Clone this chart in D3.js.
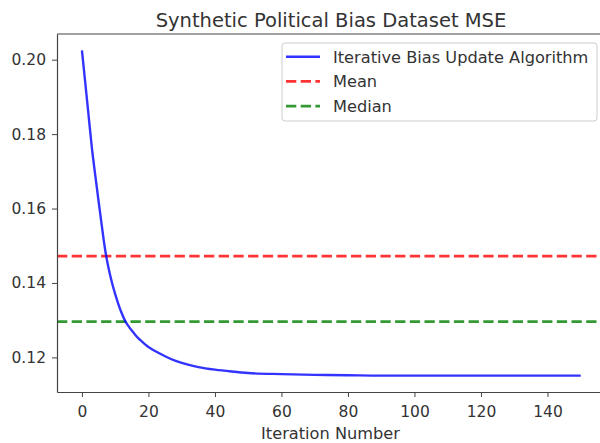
<!DOCTYPE html>
<html>
<head>
<meta charset="utf-8">
<script src="https://cdn.jsdelivr.net/npm/d3@7"></script>
<style>
  body { margin: 0; background: #fff; }
  svg { display: block; }
  .tick line, .domain { stroke: #444; }
</style>
</head>
<body>
<svg id="chart" width="600" height="443" font-family="DejaVu Sans, sans-serif"></svg>
<script>
// iterations
const iterations = [0, 1, 2, 3, 4, 5, 6, 7, 8, 9, 10, 11, 12, 13, 14, 15, 16, 17, 18, 19, 20,
  22, 25, 28, 30, 35, 40, 45, 50, 60, 70, 80, 90, 100, 110, 120, 130, 140, 150];
const mseValues = [0.2025, 0.1938, 0.1850, 0.1762, 0.1690, 0.1620, 0.1552, 0.1488, 0.1440, 0.1402,
  0.1370, 0.1342, 0.1318, 0.1298, 0.1284, 0.1272, 0.1261, 0.1251, 0.1243, 0.1235, 0.1228,
  0.1217, 0.1203, 0.1191, 0.1185, 0.1174, 0.1167, 0.1162, 0.1158, 0.1155, 0.1153, 0.1152,
  0.1151, 0.1151, 0.1151, 0.1151, 0.1151, 0.1151, 0.1151];
const meanValue = 0.1472;
const medianValue = 0.1296;
const xTicks = [0, 20, 40, 60, 80, 100, 120, 140];
const yTicks = [0.12, 0.14, 0.16, 0.18, 0.20];
const legendLabels = ["Iterative Bias Update Algorithm", "Mean", "Median"];

const data = iterations.map((t, i) => ({ t, v: mseValues[i] }));

// the right spine of the original sits just past the picture edge
const margin = { top: 34, right: 0, bottom: 51, left: 57 };
const width = 600, height = 443;
const innerWidth = width - margin.left - margin.right;
const innerHeight = height - margin.top - margin.bottom;

const svg = d3.select("#chart");

const xScale = d3.scaleLinear().domain([-7.5, 155.8]).range([0, innerWidth]);
const yScale = d3.scaleLinear().domain([0.1107, 0.2069]).range([innerHeight, 0]);

const g = svg.append("g").attr("transform", `translate(${margin.left},${margin.top})`);

const dash = "10.3,4.4";

// horizontal reference lines
g.append("line")
  .attr("x1", 0).attr("x2", innerWidth)
  .attr("y1", yScale(meanValue)).attr("y2", yScale(meanValue))
  .attr("stroke", "red").attr("stroke-opacity", 0.8)
  .attr("stroke-width", 2.8).attr("stroke-dasharray", dash);

g.append("line")
  .attr("x1", 0).attr("x2", innerWidth)
  .attr("y1", yScale(medianValue)).attr("y2", yScale(medianValue))
  .attr("stroke", "green").attr("stroke-opacity", 0.8)
  .attr("stroke-width", 2.8).attr("stroke-dasharray", dash);

const lineGenerator = d3.line()
  .x((d) => xScale(d.t))
  .y((d) => yScale(d.v))
  .curve(d3.curveMonotoneX);

g.append("path")
  .datum(data)
  .attr("d", lineGenerator)
  .attr("fill", "none")
  .attr("stroke", "blue")
  .attr("stroke-opacity", 0.8)
  .attr("stroke-width", 2.4);

// axes
const xAxis = d3.axisBottom(xScale).tickValues(xTicks).tickSize(5).tickSizeOuter(0);
const yAxis = d3.axisLeft(yScale).tickValues(yTicks).tickSize(5).tickSizeOuter(0)
  .tickPadding(6).tickFormat(d3.format(".2f"));

const xAxisG = g.append("g").attr("transform", `translate(0,${innerHeight})`).call(xAxis);
xAxisG.selectAll(".tick text").attr("y", 25).attr("dy", null);
const yAxisG = g.append("g").call(yAxis);

[xAxisG, yAxisG].forEach((a) => {
  a.attr("font-size", 15.5).attr("font-family", null);
  a.selectAll(".tick text").attr("fill", "#333");
  a.select(".domain").attr("stroke-width", 1.2);
});

// top spine
g.append("line").attr("x1", 0).attr("x2", innerWidth).attr("y1", 0).attr("y2", 0)
  .attr("stroke", "#444").attr("stroke-width", 1.2);

svg.append("text")
  .attr("x", 331)
  .attr("y", 27)
  .attr("text-anchor", "middle")
  .attr("fill", "#333")
  .attr("font-size", 19.5)
  .text("Synthetic Political Bias Dataset MSE");

svg.append("text")
  .attr("x", 330.5)
  .attr("y", 439)
  .attr("text-anchor", "middle")
  .attr("fill", "#333")
  .attr("font-size", 16.2)
  .text("Iteration Number");

// legend
const legend = svg.append("g").attr("transform", "translate(282,43)");
legend.append("rect")
  .attr("width", 315).attr("height", 78)
  .attr("rx", 3)
  .attr("fill", "#fff").attr("fill-opacity", 0.8)
  .attr("stroke", "#ccc");

const legendStyles = [
  { color: "blue", dash: null, w: 2.4 },
  { color: "red", dash: dash, w: 2.8 },
  { color: "green", dash: dash, w: 2.8 },
];

legendLabels.forEach((label, i) => {
  const y = 13.7 + i * 24.7;
  legend.append("line")
    .attr("x1", 4).attr("x2", 38).attr("y1", y).attr("y2", y)
    .attr("stroke", legendStyles[i].color).attr("stroke-opacity", 0.8)
    .attr("stroke-width", legendStyles[i].w)
    .attr("stroke-dasharray", legendStyles[i].dash);
  legend.append("text")
    .attr("x", 51).attr("y", y)
    .attr("dy", "0.36em")
    .attr("fill", "#333")
    .attr("font-size", 16.2)
    .text(label);
});
</script>
</body>
</html>
